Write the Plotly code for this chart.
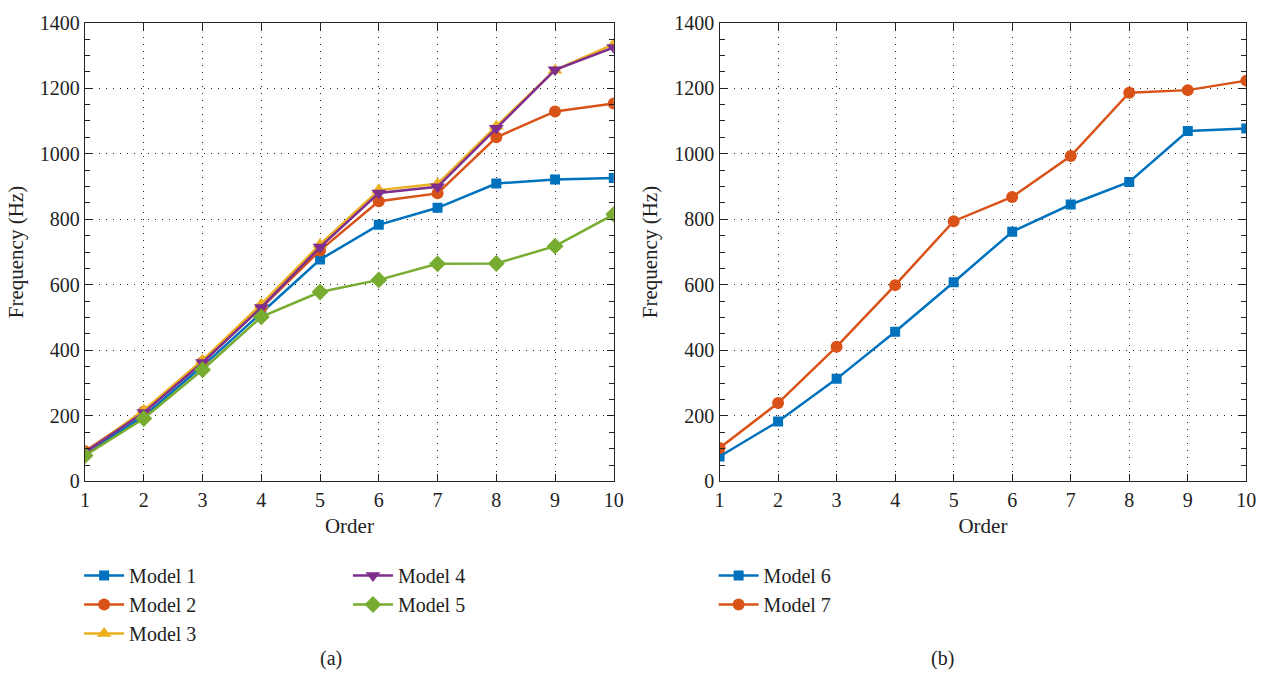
import plotly.graph_objects as go

orders = list(range(1, 11))

# Natural frequencies (Hz) for each model, panel (a)
model1 = [85, 200, 352, 515, 677, 783, 835, 909, 921, 926]
model2 = [92, 213, 364, 530, 705, 855, 879, 1050, 1129, 1153]
model3 = [88, 217, 370, 541, 723, 889, 908, 1084, 1255, 1334]
model4 = [89, 210, 363, 531, 715, 880, 899, 1078, 1256, 1324]
model5 = [79, 192, 341, 502, 578, 615, 664, 665, 718, 815]

# Panel (b)
model6 = [76, 183, 313, 457, 608, 762, 845, 914, 1069, 1077]
model7 = [102, 239, 411, 599, 794, 868, 993, 1186, 1194, 1223]

colors = {
    "Model 1": "#0072BD",
    "Model 2": "#D95319",
    "Model 3": "#EDB120",
    "Model 4": "#7E2F8E",
    "Model 5": "#77AC30",
    "Model 6": "#0072BD",
    "Model 7": "#D95319",
}
symbols = {
    "Model 1": "square",
    "Model 2": "circle",
    "Model 3": "triangle-up",
    "Model 4": "triangle-down",
    "Model 5": "diamond",
    "Model 6": "square",
    "Model 7": "circle",
}
sizes = {
    "Model 1": 10, "Model 2": 12, "Model 3": 13, "Model 4": 13,
    "Model 5": 13, "Model 6": 10, "Model 7": 12,
}

FONT = "Liberation Serif"
INK = "#222"
fig = go.Figure()

panel_a = [("Model 1", model1, "legend"), ("Model 2", model2, "legend"),
           ("Model 3", model3, "legend"), ("Model 4", model4, "legend2"),
           ("Model 5", model5, "legend2")]
for name, vals, lg in panel_a:
    fig.add_trace(go.Scatter(
        x=orders, y=vals, name=name, mode="lines+markers",
        line=dict(color=colors[name], width=2.5),
        marker=dict(symbol=symbols[name], size=sizes[name], color=colors[name]),
        xaxis="x", yaxis="y", legend=lg,
    ))

for name, vals in [("Model 6", model6), ("Model 7", model7)]:
    fig.add_trace(go.Scatter(
        x=orders, y=vals, name=name, mode="lines+markers",
        line=dict(color=colors[name], width=2.5),
        marker=dict(symbol=symbols[name], size=sizes[name], color=colors[name]),
        xaxis="x2", yaxis="y2", legend="legend3",
    ))

axis_common = dict(
    showline=True, linecolor=INK, linewidth=1.4, mirror="allticks",
    ticks="inside", ticklen=7, tickcolor=INK, tickwidth=1.3,
    showgrid=True, gridcolor="#222", griddash="1px,6px", gridwidth=1.3,
    zeroline=False, tickfont=dict(family=FONT, size=20, color=INK),
    title_font=dict(family=FONT, size=21, color=INK),
)

x_common = dict(axis_common, range=[1, 10], tickmode="linear", tick0=1, dtick=1,
                title_text="Order", title_standoff=8)
y_common = dict(axis_common, range=[0, 1400], tickmode="linear", tick0=0, dtick=200,
                title_text="Frequency (Hz)", title_standoff=10,
                minor=dict(ticks="inside", ticklen=5, tickcolor=INK, tickwidth=1.3,
                           dtick=50, tick0=0, showgrid=False))

ydom = [1 - 486 / 687, 1 - 12 / 687]
legend_style = dict(yanchor="top", xanchor="left", bgcolor="rgba(0,0,0,0)",
                    font=dict(family=FONT, size=20, color=INK),
                    tracegroupgap=0, itemwidth=40, y=1 - 563 / 687)
fig.update_layout(
    width=1284, height=687,
    margin=dict(l=0, r=0, t=0, b=0),
    paper_bgcolor="white", plot_bgcolor="white",
    font=dict(family=FONT, size=20, color=INK),
    xaxis=dict(x_common, domain=[81 / 1284, 616 / 1284], anchor="y"),
    yaxis=dict(y_common, domain=ydom, anchor="x"),
    xaxis2=dict(x_common, domain=[723 / 1284, 1256 / 1284], anchor="y2"),
    yaxis2=dict(y_common, domain=ydom, anchor="x2"),
    legend=dict(legend_style, x=75 / 1284),
    legend2=dict(legend_style, x=347 / 1284),
    legend3=dict(legend_style, x=717 / 1284),
    annotations=[
        dict(text="(a)", x=317 / 1284, y=1 - 669 / 687, xref="paper", yref="paper",
             yanchor="middle", showarrow=False, font=dict(family=FONT, size=20, color=INK)),
        dict(text="(b)", x=962 / 1284, y=1 - 669 / 687, xref="paper", yref="paper",
             yanchor="middle", showarrow=False, font=dict(family=FONT, size=20, color=INK)),
    ],
)

fig.write_html("out.html")
